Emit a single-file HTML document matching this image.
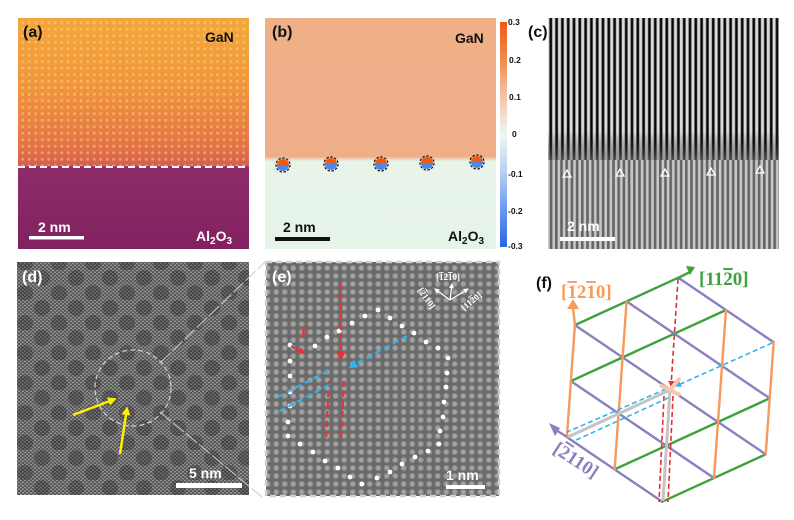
<!DOCTYPE html>
<html><head><meta charset="utf-8"><style>
html,body{margin:0;padding:0;background:#fff;}
svg{display:block;font-family:"Liberation Sans",sans-serif;}
.ob{text-decoration:overline;}
</style></head><body>
<svg width="794" height="520" viewBox="0 0 794 520" xmlns="http://www.w3.org/2000/svg">
<defs>
<linearGradient id="ga" x1="0" y1="0" x2="0" y2="1">
<stop offset="0" stop-color="#f4a63c"/><stop offset="0.3" stop-color="#f09540"/>
<stop offset="0.55" stop-color="#e47448"/><stop offset="0.64" stop-color="#d45e54"/>
<stop offset="0.645" stop-color="#8e2c6a"/><stop offset="1" stop-color="#82215f"/>
</linearGradient>
<pattern id="pa" width="6.5" height="6.5" patternUnits="userSpaceOnUse">
<circle cx="3.2" cy="3.2" r="1.5" fill="#ffe070" opacity="0.45"/></pattern>
<linearGradient id="gb" x1="0" y1="0" x2="0" y2="1">
<stop offset="0" stop-color="#efb088"/><stop offset="0.6" stop-color="#eeae88"/>
<stop offset="0.62" stop-color="#e8f4ea"/><stop offset="1" stop-color="#e6f3e8"/>
</linearGradient>
<linearGradient id="gcb" x1="0" y1="0" x2="0" y2="1">
<stop offset="0" stop-color="#ee5a14"/><stop offset="0.17" stop-color="#f08c50"/>
<stop offset="0.33" stop-color="#f3c4a6"/><stop offset="0.5" stop-color="#eef6f2"/>
<stop offset="0.67" stop-color="#b7cff0"/><stop offset="0.83" stop-color="#6a9af0"/>
<stop offset="1" stop-color="#2866e6"/>
</linearGradient>
<pattern id="pc1" width="5.8" height="10" patternUnits="userSpaceOnUse">
<rect width="5.8" height="10" fill="#050505"/><rect x="1.4" width="2.6" height="10" fill="#f0f0f0"/><rect x="0.8" width="3.8" height="10" fill="#c8c8c8" opacity="0.5"/></pattern>
<pattern id="pc2" width="5.2" height="10" patternUnits="userSpaceOnUse">
<rect width="5.2" height="10" fill="#646464"/><rect x="1.2" width="2.6" height="10" fill="#c8c8c8"/></pattern>
<linearGradient id="gc" x1="0" y1="0" x2="0" y2="1">
<stop offset="0" stop-color="#000" stop-opacity="0"/><stop offset="0.8" stop-color="#000" stop-opacity="0"/><stop offset="1" stop-color="#777" stop-opacity="0.6"/></linearGradient>
<pattern id="pd" width="4" height="3.5" patternUnits="userSpaceOnUse">
<rect width="4" height="3.5" fill="#555"/><circle cx="1" cy="1" r="0.9" fill="#c4c4c4" opacity="0.7"/><circle cx="3" cy="2.75" r="0.9" fill="#c4c4c4" opacity="0.7"/></pattern>
<pattern id="pdb" width="34" height="30" patternUnits="userSpaceOnUse">
<circle cx="8" cy="8" r="8" fill="#1a1a1a" opacity="0.3"/><circle cx="25" cy="23" r="8" fill="#1a1a1a" opacity="0.3"/></pattern>
<pattern id="pe" width="8.5" height="8" patternUnits="userSpaceOnUse">
<rect width="8.5" height="8" fill="#6a6a6a"/><circle cx="4.25" cy="4" r="3" fill="#8e8e8e"/><circle cx="4.25" cy="4" r="1.8" fill="#a4a4a4"/></pattern>
<marker id="mr" viewBox="0 0 10 10" refX="8" refY="5" markerWidth="4" markerHeight="4" orient="auto"><path d="M0,0L10,5L0,10z" fill="#e8303a"/></marker>
<marker id="mbl" viewBox="0 0 10 10" refX="8" refY="5" markerWidth="4" markerHeight="4" orient="auto"><path d="M0,0L10,5L0,10z" fill="#2eb4ee"/></marker>
<marker id="my" viewBox="0 0 10 10" refX="8" refY="5" markerWidth="3.5" markerHeight="3.5" orient="auto"><path d="M0,0L10,5L0,10z" fill="#ffef00"/></marker>
<marker id="mw" viewBox="0 0 10 10" refX="8" refY="5" markerWidth="4" markerHeight="4" orient="auto"><path d="M0,0L10,5L0,10z" fill="#fff"/></marker>
</defs>

<!-- (a) -->
<rect x="18" y="18" width="231" height="231" fill="url(#ga)"/>
<rect x="18" y="18" width="231" height="148" fill="url(#pa)"/>
<line x1="18" y1="167" x2="249" y2="167" stroke="#fff" stroke-width="2" stroke-dasharray="7,4"/>
<text x="23" y="37" font-size="16" font-weight="bold" fill="#111">(a)</text>
<text x="205" y="42" font-size="14" font-weight="bold" fill="#111">GaN</text>
<text x="196" y="241" font-size="14" font-weight="bold" fill="#fff">Al<tspan font-size="10" dy="3">2</tspan><tspan dy="-3">O</tspan><tspan font-size="10" dy="3">3</tspan></text>
<rect x="29" y="236" width="55" height="3.5" fill="#fff"/>
<text x="38" y="232" font-size="14" font-weight="bold" fill="#fff">2 nm</text>

<!-- (b) -->
<rect x="265" y="18" width="231" height="231" fill="url(#gb)"/>
<g stroke="#111" stroke-width="1.2" stroke-dasharray="2.5,1.5">
<g fill="#f05a14"><path d="M277,165a6,6 0 0 1 12,0z" stroke="none"/><path d="M325,164a6,6 0 0 1 12,0z" stroke="none"/><path d="M375,164a6,6 0 0 1 12,0z" stroke="none"/><path d="M421,163a6,6 0 0 1 12,0z" stroke="none"/><path d="M471,162a6,6 0 0 1 12,0z" stroke="none"/></g>
<g fill="#4a88ee"><path d="M277,165a6,6 0 0 0 12,0z" stroke="none"/><path d="M325,164a6,6 0 0 0 12,0z" stroke="none"/><path d="M375,164a6,6 0 0 0 12,0z" stroke="none"/><path d="M421,163a6,6 0 0 0 12,0z" stroke="none"/><path d="M471,162a6,6 0 0 0 12,0z" stroke="none"/></g>
<g fill="none"><circle cx="283" cy="165" r="7"/><circle cx="331" cy="164" r="7"/><circle cx="381" cy="164" r="7"/><circle cx="427" cy="163" r="7"/><circle cx="477" cy="162" r="7"/></g>
</g>
<text x="272" y="37" font-size="16" font-weight="bold" fill="#111">(b)</text>
<text x="455" y="43" font-size="14" font-weight="bold" fill="#111">GaN</text>
<text x="448" y="241" font-size="14" font-weight="bold" fill="#111">Al<tspan font-size="10" dy="3">2</tspan><tspan dy="-3">O</tspan><tspan font-size="10" dy="3">3</tspan></text>
<rect x="275" y="237" width="55" height="4" fill="#111"/>
<text x="283" y="232" font-size="14" font-weight="bold" fill="#111">2 nm</text>
<rect x="500" y="22" width="7" height="225" fill="url(#gcb)"/>
<g font-size="8.5" fill="#111" font-weight="bold">
<text x="508" y="25">0.3</text><text x="509" y="63">0.2</text><text x="509" y="100">0.1</text><text x="512" y="137">0</text><text x="508" y="177">-0.1</text><text x="508" y="214">-0.2</text><text x="508" y="249">-0.3</text></g>

<!-- (c) -->
<rect x="548" y="18" width="231" height="142" fill="url(#pc1)"/>
<rect x="548" y="160" width="231" height="89" fill="url(#pc2)"/>
<rect x="548" y="18" width="231" height="142" fill="url(#gc)"/>
<text x="528" y="37" font-size="16" font-weight="bold" fill="#111">(c)</text>
<g fill="none" stroke="#fff" stroke-width="1.3"><path d="M563,177l4,-7l4,7z"/><path d="M616,176l4,-7l4,7z"/><path d="M661,176l4,-7l4,7z"/><path d="M707,175l4,-7l4,7z"/><path d="M756,173l4,-7l4,7z"/></g>
<rect x="560" y="237" width="55" height="4" fill="#fff"/>
<text x="567" y="231" font-size="14" font-weight="bold" fill="#fff">2 nm</text>

<!-- (d) -->
<rect x="17" y="262" width="232" height="233" fill="url(#pd)"/>
<rect x="17" y="262" width="232" height="233" fill="url(#pdb)"/>
<circle cx="133" cy="388" r="38" fill="none" stroke="#ccc" stroke-width="1.3" stroke-dasharray="5,3"/>
<line x1="160" y1="363" x2="265" y2="262" stroke="#ccc" stroke-width="1" stroke-dasharray="14,3"/>
<line x1="160" y1="412" x2="262" y2="497" stroke="#ccc" stroke-width="1" stroke-dasharray="14,3"/>
<line x1="73" y1="415" x2="115" y2="399" stroke="#ffef00" stroke-width="2.5" marker-end="url(#my)"/>
<line x1="120" y1="454" x2="127" y2="408" stroke="#ffef00" stroke-width="2.5" marker-end="url(#my)"/>
<text x="22" y="282" font-size="16" font-weight="bold" fill="#fff">(d)</text>
<rect x="176" y="483" width="66" height="5" fill="#fff"/>
<text x="189" y="478" font-size="14" font-weight="bold" fill="#fff">5 nm</text>

<!-- (e) -->
<rect x="266" y="262" width="233" height="234" fill="url(#pe)"/>
<rect x="266" y="262" width="233" height="234" fill="none" stroke="#d0d0d0" stroke-width="2.5" stroke-dasharray="6,4"/>
<g fill="#fff">
<circle cx="290" cy="345" r="2.4"/><circle cx="315" cy="346" r="2.4"/><circle cx="327" cy="337" r="2.4"/><circle cx="339" cy="331" r="2.4"/><circle cx="352" cy="323" r="2.4"/><circle cx="365" cy="316" r="2.4"/><circle cx="378" cy="310" r="2.4"/><circle cx="390" cy="318" r="2.4"/><circle cx="402" cy="326" r="2.4"/><circle cx="414" cy="333" r="2.4"/><circle cx="426" cy="342" r="2.4"/><circle cx="438" cy="348" r="2.4"/><circle cx="448" cy="358" r="2.4"/><circle cx="447" cy="373" r="2.4"/><circle cx="446" cy="387" r="2.4"/><circle cx="444" cy="402" r="2.4"/><circle cx="443" cy="417" r="2.4"/><circle cx="440" cy="431" r="2.4"/><circle cx="439" cy="444" r="2.4"/><circle cx="428" cy="451" r="2.4"/><circle cx="415" cy="457" r="2.4"/><circle cx="402" cy="464" r="2.4"/><circle cx="390" cy="472" r="2.4"/><circle cx="377" cy="478" r="2.4"/><circle cx="362" cy="484" r="2.4"/><circle cx="350" cy="477" r="2.4"/><circle cx="338" cy="468" r="2.4"/><circle cx="325" cy="461" r="2.4"/><circle cx="313" cy="452" r="2.4"/><circle cx="300" cy="444" r="2.4"/><circle cx="288" cy="436" r="2.4"/><circle cx="288" cy="422" r="2.4"/><circle cx="290" cy="406" r="2.4"/><circle cx="290" cy="392" r="2.4"/><circle cx="290" cy="376" r="2.4"/><circle cx="290" cy="361" r="2.4"/>
</g>
<g stroke-width="2.2" stroke-dasharray="6,4" fill="none">
<line x1="341" y1="284" x2="341" y2="359" stroke="#e8303a" marker-end="url(#mr)"/>
<line x1="329" y1="381" x2="326" y2="440" stroke="#e8303a"/>
<line x1="344" y1="381" x2="341" y2="442" stroke="#e8303a"/>
<line x1="407" y1="336" x2="350" y2="367" stroke="#2eb4ee" marker-end="url(#mbl)"/>
<line x1="328" y1="371" x2="276" y2="398" stroke="#2eb4ee"/>
<line x1="329" y1="385" x2="278" y2="412" stroke="#2eb4ee"/>
</g>
<line x1="291" y1="346" x2="304" y2="353" stroke="#e8303a" stroke-width="1.8" marker-end="url(#mr)"/>
<text x="301" y="338" font-size="13" font-weight="bold" font-style="italic" font-family="Liberation Serif,serif" fill="#e8303a">b</text>
<line x1="301" y1="327" x2="309" y2="327" stroke="#e8303a" stroke-width="1"/>
<g stroke="#fff" stroke-width="1.3">
<line x1="450" y1="300" x2="452" y2="284" marker-end="url(#mw)"/>
<line x1="450" y1="300" x2="435" y2="289" marker-end="url(#mw)"/>
<line x1="450" y1="300" x2="468" y2="289" marker-end="url(#mw)"/>
</g>
<g font-size="9" font-weight="bold" fill="#fff" font-family="Liberation Serif,serif">
<text x="436" y="280">[<tspan class="ob">1</tspan>2<tspan class="ob">1</tspan>0]</text>
<text x="418" y="301" transform="rotate(55 428 295)">[<tspan class="ob">2</tspan>110]</text>
<text x="458" y="306" transform="rotate(-40 468 300)">[11<tspan class="ob">2</tspan>0]</text>
</g>
<text x="272" y="282" font-size="16" font-weight="bold" fill="#fff">(e)</text>
<rect x="446" y="485" width="39" height="4" fill="#fff"/>
<text x="446" y="480" font-size="14" font-weight="bold" fill="#fff">1 nm</text>

<!-- (f) -->
<text x="536" y="288" font-size="16" font-weight="bold" fill="#111">(f)</text>
<g stroke-width="2.4" stroke-linecap="round">
<g stroke="#3ca23c">
<line x1="574.9" y1="325.1" x2="678.3" y2="277.7"/>
<line x1="570.9" y1="381.1" x2="726" y2="310"/>
<line x1="614.6" y1="469.4" x2="769.7" y2="398.3"/>
<line x1="662.3" y1="501.7" x2="765.7" y2="454.3"/>
</g>
<g stroke="#8a80c0">
<line x1="566.9" y1="437.1" x2="662.3" y2="501.7"/>
<line x1="570.9" y1="381.1" x2="714" y2="478"/>
<line x1="574.9" y1="325.1" x2="765.7" y2="454.3"/>
<line x1="626.6" y1="301.4" x2="769.7" y2="398.3"/>
<line x1="678.3" y1="277.7" x2="773.7" y2="342.3"/>
</g>
<g stroke="#f79a5c">
<line x1="566.9" y1="437.1" x2="574.9" y2="325.1"/>
<line x1="614.6" y1="469.4" x2="626.6" y2="301.4"/>
<line x1="714" y1="478" x2="726" y2="310"/>
<line x1="765.7" y1="454.3" x2="773.7" y2="342.3"/>
</g>
</g>
<g stroke-width="2.4">
<line x1="575" y1="325" x2="573" y2="308" stroke="#f79a5c"/><path d="M567,309L573,299L579,309z" fill="#f79a5c"/>
<line x1="678" y1="278" x2="690" y2="272" stroke="#3ca23c"/><path d="M686,266L695,267L690,275z" fill="#3ca23c"/>
<line x1="567" y1="437" x2="556" y2="430" stroke="#8a80c0"/><path d="M549,423L555,436L560,428z" fill="#8a80c0"/>
</g>
<g stroke="#c4c4c4" stroke-width="3">
<line x1="670" y1="390" x2="663" y2="501"/>
<line x1="670" y1="390" x2="568" y2="437"/>
</g>
<g stroke-width="1.6" stroke-dasharray="5,3" fill="none">
<line x1="678" y1="279" x2="671" y2="386" stroke="#e02c38" marker-end="url(#mr)"/>
<line x1="664" y1="396" x2="659" y2="502" stroke="#e02c38"/>
<line x1="673" y1="396" x2="668" y2="502" stroke="#e02c38"/>
<line x1="772" y1="343" x2="676" y2="386" stroke="#2eb4ee" marker-end="url(#mbl)"/>
<line x1="666" y1="389" x2="567" y2="432" stroke="#2eb4ee"/>
<line x1="668" y1="398" x2="572" y2="442" stroke="#2eb4ee"/>
</g>
<g stroke="#f8c4ac" stroke-width="4">
<line x1="660" y1="385" x2="680" y2="395"/>
<line x1="670" y1="390" x2="680" y2="378"/>
</g>
<g font-family="Liberation Serif,serif" font-weight="bold" font-size="19">
<text x="561" y="298" fill="#f79a5c">[<tspan class="ob">1</tspan>2<tspan class="ob">1</tspan>0]</text>
<text x="699" y="285" fill="#3ca23c">[11<tspan class="ob">2</tspan>0]</text>
<text x="550" y="466" fill="#8a80c0" transform="rotate(33 575 462)">[<tspan class="ob">2</tspan>110]</text>
</g>
</svg>
</body></html>
